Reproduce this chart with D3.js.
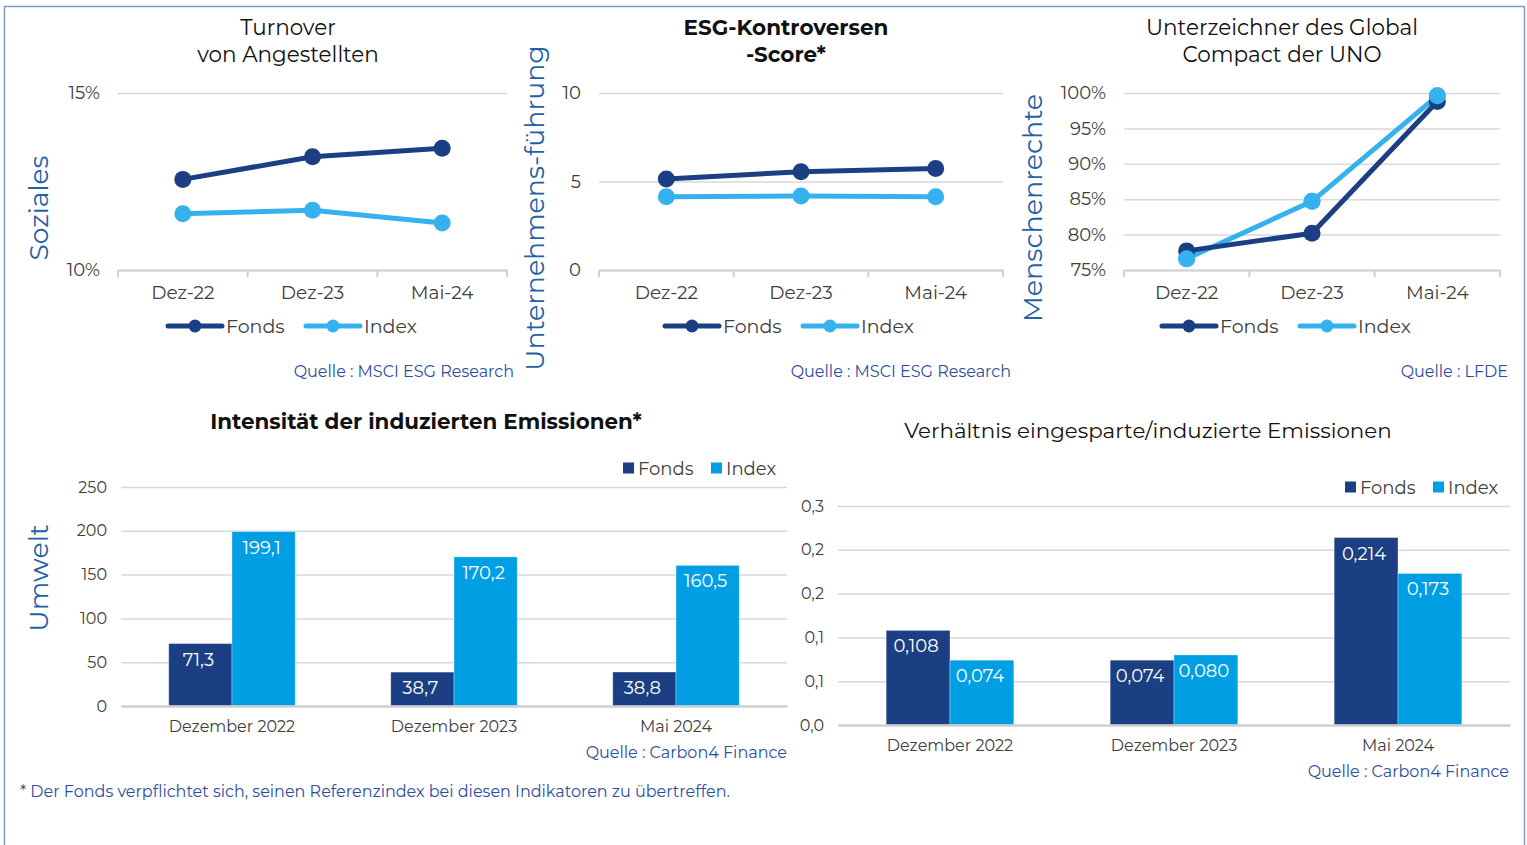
<!DOCTYPE html>
<html>
<head>
<meta charset="utf-8">
<script src="https://cdn.jsdelivr.net/npm/d3@7"></script>
<style>
  body { margin: 0; background: #fff; }
  svg { display: block; font-family: Montserrat, 'Open Sans', sans-serif; }
</style>
</head>
<body>
<svg id="canvas" width="1527" height="845"></svg>
<script>
// categories
var lineCats = ['Dez-22', 'Dez-23', 'Mai-24'];
var barCats = ['Dezember 2022', 'Dezember 2023', 'Mai 2024'];
var seriesNames = ['Fonds', 'Index'];

// Soziales - Turnover von Angestellten (%)
var turnoverFonds = [12.56, 13.2, 13.44];
var turnoverIndex = [11.59, 11.69, 11.33];
var turnoverTicks = [10, 15];

// Unternehmensführung - ESG-Kontroversen-Score
var controvFonds = [5.14, 5.55, 5.74];
var controvIndex = [4.14, 4.18, 4.14];
var controvTicks = [0, 5, 10];

// Menschenrechte - Unterzeichner UN Global Compact (%)
var ungcFonds = [77.7, 80.2, 98.8];
var ungcIndex = [76.6, 84.7, 99.6];
var ungcTicks = [75, 80, 85, 90, 95, 100];

// Umwelt - Intensität der induzierten Emissionen
var intensFonds = [71.3, 38.7, 38.8];
var intensIndex = [199.1, 170.2, 160.5];
var intensTicks = [0, 50, 100, 150, 200, 250];

// Verhältnis eingesparte/induzierte Emissionen
var ratioFonds = [0.108, 0.074, 0.214];
var ratioIndex = [0.074, 0.080, 0.173];
var ratioTicks = [0, 0.05, 0.1, 0.15, 0.2, 0.25];
var ratioTickLabels = ['0,0', '0,1', '0,1', '0,2', '0,2', '0,3'];

var FONDS = '#1b3f82';
var INDEX_LINE = '#35b2ee';
var INDEX_BAR = '#009fe3';
var GRID = '#d9d9d9';
var TXT = '#404040';
var BLUE_TXT = '#2d4e9e';
var AXIS_TITLE = '#1f62a6';

var de = d3.formatLocale({decimal: ',', thousands: '.', grouping: [3], currency: ['', ' €']});

var svg = d3.select('#canvas');

// frame
svg.append('path')
  .attr('d', 'M4.5,845 V6.5 H1524.5 V845')
  .attr('fill', 'none')
  .attr('stroke', '#7f9cc0')
  .attr('stroke-width', 1.5);

function titleLines(g, lines, cx, y0, size, weight) {
  lines.forEach(function(t, i) {
    g.append('text')
      .attr('x', cx)
      .attr('y', y0 + i * 27)
      .attr('text-anchor', 'middle')
      .style('font-size', size + 'px')
      .style('font-weight', weight)
      .style('fill', '#111')
      .text(t);
  });
}

function axisTitle(g, text, x, cy, size) {
  g.append('text')
    .attr('transform', 'translate(' + x + ',' + cy + ') rotate(-90)')
    .attr('text-anchor', 'middle')
    .style('font-size', size + 'px')
    .style('fill', AXIS_TITLE)
    .text(text);
}

function source(g, text, x, y) {
  g.append('text')
    .attr('x', x)
    .attr('y', y)
    .attr('text-anchor', 'end')
    .style('font-size', '16px')
    .style('fill', BLUE_TXT)
    .text(text);
}

// d3 axes put their own font on the group, drop it so the page font is used
function plainAxis(a) {
  a.attr('font-family', null).attr('font-size', null);
}

function lineChart(cfg) {
  var g = svg.append('g');
  var x = d3.scaleBand().domain(lineCats).range([cfg.x0, cfg.x1]);
  var y = d3.scaleLinear().domain(cfg.domain).range([270, 93]);

  titleLines(g, cfg.title, cfg.tx, 35, 21.5, cfg.bold ? 700 : 400);
  axisTitle(g, cfg.yTitle, cfg.ytx, 208, cfg.ytSize);

  g.append('g')
    .attr('transform', 'translate(' + cfg.x0 + ',0)')
    .call(d3.axisLeft(y).tickValues(cfg.ticks).tickSize(-(cfg.x1 - cfg.x0)).tickPadding(18).tickFormat(cfg.fmt))
    .call(plainAxis)
    .call(function(a) {
      a.select('.domain').remove();
      a.selectAll('line').attr('stroke', GRID).attr('stroke-width', 1.5);
      a.selectAll('text').style('font-size', '18px').style('fill', TXT);
    });

  var xa = g.append('g')
    .attr('transform', 'translate(0,270)')
    .call(d3.axisBottom(x).tickSize(0).tickSizeOuter(0).tickPadding(16))
    .call(plainAxis);
  xa.select('.domain').attr('stroke', '#d0d0d0').attr('stroke-width', 2);
  xa.selectAll('text').style('font-size', '18.5px').style('fill', TXT);
  // tick marks between categories
  xa.selectAll('.sep')
    .data(d3.range(lineCats.length + 1))
    .enter()
    .append('line')
    .attr('x1', function(i) { return cfg.x0 + i * x.step(); })
    .attr('x2', function(i) { return cfg.x0 + i * x.step(); })
    .attr('y1', 0)
    .attr('y2', 7)
    .attr('stroke', '#d0d0d0')
    .attr('stroke-width', 2);

  var cx = function(d, i) { return x(lineCats[i]) + x.bandwidth() / 2; };
  var line = d3.line().x(cx).y(function(d) { return y(d); });

  [[cfg.index, INDEX_LINE], [cfg.fonds, FONDS]].forEach(function(s) {
    g.append('path')
      .datum(s[0])
      .attr('d', line)
      .attr('fill', 'none')
      .attr('stroke', s[1])
      .attr('stroke-width', 5)
      .attr('stroke-linejoin', 'round');
    g.selectAll(null)
      .data(s[0])
      .enter()
      .append('circle')
      .attr('cx', cx)
      .attr('cy', function(d) { return y(d); })
      .attr('r', 8.5)
      .attr('fill', s[1]);
  });
  // Index drawn on top where it overlaps (as in reference)
  if (cfg.indexOnTop) {
    g.selectAll(null)
      .data(cfg.index)
      .enter()
      .append('circle')
      .attr('cx', cx)
      .attr('cy', function(d) { return y(d); })
      .attr('r', 8.5)
      .attr('fill', INDEX_LINE);
  }

  // legend
  var lg = g.append('g').attr('transform', 'translate(' + cfg.lx + ',326)');
  [[FONDS, 'Fonds', 0], [INDEX_LINE, 'Index', 138]].forEach(function(l) {
    lg.append('line').attr('x1', l[2]).attr('x2', l[2] + 54).attr('y1', 0).attr('y2', 0)
      .attr('stroke', l[0]).attr('stroke-width', 5).attr('stroke-linecap', 'round');
    lg.append('circle').attr('cx', l[2] + 27).attr('cy', 0).attr('r', 6.5).attr('fill', l[0]);
    lg.append('text').attr('x', l[2] + 58).attr('y', 6.5)
      .style('font-size', '19px').style('fill', TXT).text(l[1]);
  });

  source(g, cfg.src, cfg.srcX, 377);
}

function barChart(cfg) {
  var g = svg.append('g');
  var x = d3.scaleBand().domain(barCats).range([cfg.x0, cfg.x1]).paddingInner(0.43).paddingOuter(0.215);
  var xs = d3.scaleBand().domain(seriesNames).range([0, x.bandwidth()]);
  var y = d3.scaleLinear().domain(cfg.domain).range([cfg.yb, cfg.yt]);

  g.append('text')
    .attr('x', cfg.tx)
    .attr('y', cfg.ty)
    .attr('text-anchor', 'middle')
    .style('font-size', cfg.tSize + 'px')
    .style('font-weight', cfg.bold ? 700 : 400)
    .style('fill', '#111')
    .text(cfg.title);

  if (cfg.yTitle) axisTitle(g, cfg.yTitle, cfg.ytx, cfg.yty, 27);

  g.append('g')
    .attr('transform', 'translate(' + cfg.x0 + ',0)')
    .call(d3.axisLeft(y).tickValues(cfg.ticks).tickSize(-(cfg.x1 - cfg.x0)).tickPadding(14)
      .tickFormat(function(d, i) { return cfg.tickLabels ? cfg.tickLabels[i] : d; }))
    .call(plainAxis)
    .call(function(a) {
      a.select('.domain').remove();
      a.selectAll('line').attr('stroke', GRID).attr('stroke-width', 1.5);
      a.selectAll('text').style('font-size', '16px').style('fill', TXT);
    });

  var rows = barCats.map(function(c, i) {
    return {cat: c, vals: [{k: 'Fonds', v: cfg.fonds[i]}, {k: 'Index', v: cfg.index[i]}]};
  });

  var grp = g.selectAll('.grp')
    .data(rows)
    .enter()
    .append('g')
    .attr('class', 'grp')
    .attr('transform', function(d) { return 'translate(' + x(d.cat) + ',0)'; });

  var bar = grp.selectAll('.bar')
    .data(function(d) { return d.vals; })
    .enter()
    .append('g')
    .attr('class', 'bar');

  bar.append('rect')
    .attr('x', function(d) { return xs(d.k); })
    .attr('y', function(d) { return y(d.v); })
    .attr('width', xs.bandwidth())
    .attr('height', function(d) { return y(0) - y(d.v); })
    .attr('fill', function(d) { return d.k === 'Fonds' ? FONDS : INDEX_BAR; })
    .attr('stroke', 'rgba(255,255,255,0.35)')
    .attr('stroke-width', 1);

  bar.append('text')
    .attr('x', function(d) { return xs(d.k) + xs.bandwidth() / 2 - 2; })
    .attr('y', function(d) { return y(d.v) + 22; })
    .attr('text-anchor', 'middle')
    .style('font-size', '18px')
    .style('fill', '#fff')
    .text(function(d) { return cfg.fmt(d.v); });

  var xa = g.append('g')
    .attr('transform', 'translate(0,' + cfg.yb + ')')
    .call(d3.axisBottom(x).tickSize(0).tickSizeOuter(0).tickPadding(15))
    .call(plainAxis);
  xa.select('.domain').attr('stroke', '#d0d0d0').attr('stroke-width', 2.5);
  xa.selectAll('text').style('font-size', '16px').style('fill', TXT);

  // legend
  var lg = g.append('g').attr('transform', 'translate(' + cfg.lx + ',' + cfg.ly + ')');
  [[FONDS, 'Fonds', 0], [INDEX_BAR, 'Index', 88]].forEach(function(l) {
    lg.append('rect').attr('x', l[2]).attr('y', -5.5).attr('width', 11).attr('height', 11).attr('fill', l[0]);
    lg.append('text').attr('x', l[2] + 15).attr('y', 6.5)
      .style('font-size', '18px').style('fill', TXT).text(l[1]);
  });

  source(g, cfg.src, cfg.srcX, cfg.srcY);
}

lineChart({
  x0: 118, x1: 507, domain: [10, 15], ticks: turnoverTicks,
  fmt: function(d) { return d + '%'; },
  fonds: turnoverFonds, index: turnoverIndex,
  title: ['Turnover', 'von Angestellten'], tx: 288,
  yTitle: 'Soziales', ytx: 48, ytSize: 26.5,
  lx: 168, src: 'Quelle : MSCI ESG Research', srcX: 514
});

lineChart({
  x0: 599, x1: 1003, domain: [0, 10], ticks: controvTicks,
  fmt: function(d) { return d; },
  fonds: controvFonds, index: controvIndex,
  title: ['ESG-Kontroversen', '-Score*'], tx: 786, bold: true,
  yTitle: 'Unternehmens-führung', ytx: 544, ytSize: 26.8,
  lx: 665, src: 'Quelle : MSCI ESG Research', srcX: 1011
});

lineChart({
  x0: 1124, x1: 1500, domain: [75, 100], ticks: ungcTicks,
  fmt: function(d) { return d + '%'; },
  fonds: ungcFonds, index: ungcIndex, indexOnTop: true,
  title: ['Unterzeichner des Global', 'Compact der UNO'], tx: 1282,
  yTitle: 'Menschenrechte', ytx: 1042, ytSize: 27,
  lx: 1162, src: 'Quelle : LFDE', srcX: 1508
});

barChart({
  x0: 121, x1: 787, yb: 706, yt: 487, domain: [0, 250], ticks: intensTicks,
  fonds: intensFonds, index: intensIndex, fmt: de.format('.1f'),
  title: 'Intensität der induzierten Emissionen*', tx: 426, ty: 429, tSize: 21.4, bold: true,
  yTitle: 'Umwelt', ytx: 48, yty: 578,
  lx: 623, ly: 468, src: 'Quelle : Carbon4 Finance', srcX: 787, srcY: 758
});

barChart({
  x0: 838, x1: 1510, yb: 725, yt: 506, domain: [0, 0.25], ticks: ratioTicks, tickLabels: ratioTickLabels,
  fonds: ratioFonds, index: ratioIndex, fmt: de.format('.3f'),
  title: 'Verhältnis eingesparte/induzierte Emissionen', tx: 1148, ty: 438, tSize: 21.4,
  lx: 1345, ly: 487, src: 'Quelle : Carbon4 Finance', srcX: 1509, srcY: 777
});

svg.append('text')
  .attr('x', 20)
  .attr('y', 797)
  .style('font-size', '16px')
  .style('fill', BLUE_TXT)
  .text('* Der Fonds verpflichtet sich, seinen Referenzindex bei diesen Indikatoren zu übertreffen.');
</script>
</body>
</html>
